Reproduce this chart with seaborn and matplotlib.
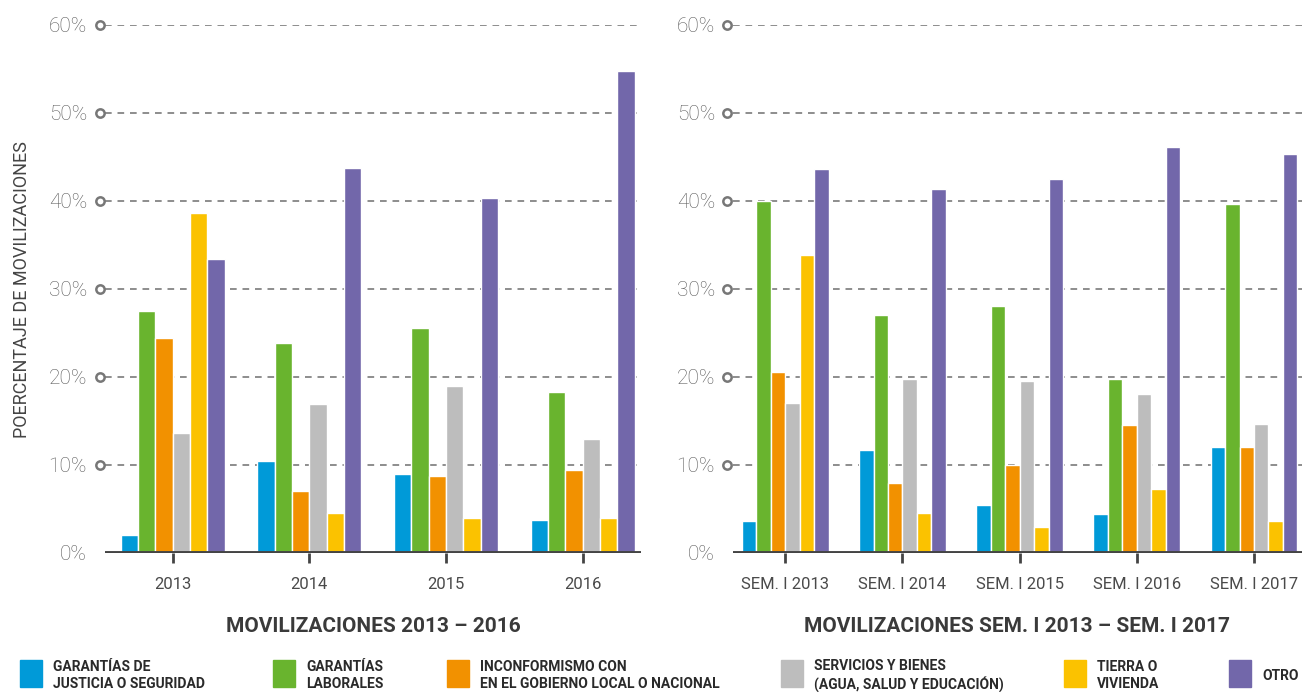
import matplotlib
matplotlib.use("Agg")
import matplotlib.pyplot as plt
from matplotlib.patches import Rectangle
import numpy as np
import pandas as pd
import seaborn as sns

# colours of the six mobilisation types
COLORS = ["#009ad8", "#69b42e", "#f29100", "#bdbdbd", "#fbc200", "#7267aa"]

categories = [
    "GARANTÍAS DE\nJUSTICIA O SEGURIDAD",
    "GARANTÍAS\nLABORALES",
    "INCONFORMISMO CON\nEN EL GOBIERNO LOCAL O NACIONAL",
    "SERVICIOS Y BIENES\n(AGUA, SALUD Y EDUCACIÓN)",
    "TIERRA O\nVIVIENDA",
    "OTRO",
]

# left panel: yearly
years_left = ["2013", "2014", "2015", "2016"]
justicia_left = [2.1, 10.4, 9.0, 3.75]
laborales_left = [27.5, 23.9, 25.6, 18.3]
gobierno_left = [24.4, 7.0, 8.7, 9.4]
servicios_left = [13.6, 16.9, 19.0, 12.9]
tierra_left = [38.6, 4.6, 4.0, 4.0]
otro_left = [33.4, 43.8, 40.3, 54.8]

# right panel: first semester
years_right = ["SEM. I 2013", "SEM. I 2014", "SEM. I 2015", "SEM. I 2016", "SEM. I 2017"]
justicia_right = [3.6, 11.7, 5.4, 4.4, 12.0]
laborales_right = [40.0, 27.0, 28.1, 19.8, 39.7]
gobierno_right = [20.6, 8.0, 10.0, 14.6, 12.0]
servicios_right = [17.0, 19.8, 19.6, 18.1, 14.7]
tierra_right = [33.9, 4.5, 3.0, 7.3, 3.6]
otro_right = [43.6, 41.4, 42.5, 46.1, 45.3]


def to_long(periods, series):
    rows = []
    for cat, vals in zip(categories, series):
        for p, v in zip(periods, vals):
            rows.append((p, cat, v))
    return pd.DataFrame(rows, columns=["periodo", "tipo", "valor"])


df_left = to_long(years_left, [justicia_left, laborales_left, gobierno_left,
                               servicios_left, tierra_left, otro_left])
df_right = to_long(years_right, [justicia_right, laborales_right, gobierno_right,
                                 servicios_right, tierra_right, otro_right])

sns.set_theme(style="white")
plt.rcParams["font.family"] = ["Roboto", "DejaVu Sans"]

W, H = 1304, 692
fig = plt.figure(figsize=(W / 100, H / 100), dpi=100)


def draw_panel(df, periods, left, right, xlim, width, title):
    ax = fig.add_axes([left / W, 139 / H, (right - left) / W, 528 / H])
    sns.barplot(data=df, x="periodo", y="valor", hue="tipo", order=periods,
                hue_order=categories, palette=COLORS, width=width, gap=0,
                saturation=1, legend=False, ax=ax, zorder=2)
    ax.set_xlim(*xlim)
    ax.set_ylim(0, 60)
    ticks = np.arange(0, 70, 10)
    ax.set_yticks(ticks)
    ax.set_yticklabels([f"{t}%" for t in ticks])
    for t in ticks[1:]:
        ax.axhline(t, ls=(0, (4, 3.5)), color="#7a7a7a", lw=1.2, zorder=0)
    ax.plot([-0.01] * 6, ticks[1:], transform=ax.get_yaxis_transform(),
            marker="o", ms=6, mfc="white", mec="#777777", mew=1.8, ls="none",
            clip_on=False, zorder=3)
    ax.axhline(0, color="#444444", lw=2.8, zorder=3)
    for s in ax.spines.values():
        s.set_visible(False)
    ax.tick_params(axis="y", length=0, pad=13, labelsize=15, labelcolor="#5a5a5a")
    ax.tick_params(axis="x", bottom=True, length=7, width=2, color="#444444",
                   pad=10, labelsize=12, labelcolor="#4a4a4a")
    for lab in ax.get_yticklabels():
        lab.set_fontweight("light")
    ax.set_ylabel("")
    ax.set_xlabel(title, fontsize=15, fontweight="bold", color="#3a3a3a")
    ax.xaxis.set_label_coords(0.5, -0.14)
    ax.xaxis.label.set_va("center")
    return ax


draw_panel(df_left, years_left, 105, 641, (-0.495, 3.426), 0.76,
           "MOVILIZACIONES 2013 – 2016")
draw_panel(df_right, years_right, 733, 1302, (-0.446, 4.41), 0.74,
           "MOVILIZACIONES SEM. I 2013 – SEM. I 2017")

fig.text(22 / W, 1 - 290 / H, "POERCENTAJE DE MOVILIZACIONES", rotation=90,
         va="center", ha="center", fontsize=13, color="#444444")

# legend along the bottom
square_x = [20, 273, 447, 781, 1064, 1229]
for x, lab, col in zip(square_x, categories, COLORS):
    fig.add_artist(Rectangle((x / W, 5 / H), 22 / W, 27 / H,
                             transform=fig.transFigure, color=col))
    fig.text((x + 33) / W, 1 - 675.5 / H, lab, va="center", ha="left",
             fontsize=10, fontweight="bold", color="#2a2a2a", linespacing=1.25)

fig.savefig("out.png", dpi=100)
